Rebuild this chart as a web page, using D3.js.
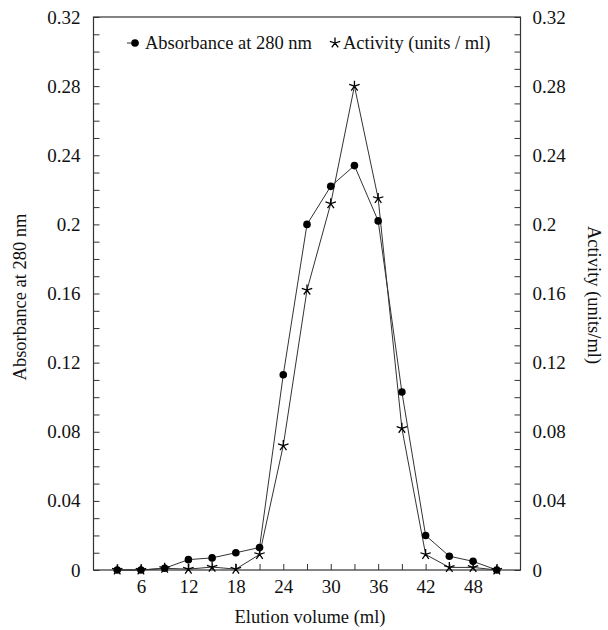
<!DOCTYPE html>
<html>
<head>
<meta charset="utf-8">
<script src="https://cdnjs.cloudflare.com/ajax/libs/d3/7.8.5/d3.min.js"></script>
<style>
body { margin: 0; background: #fff; }
text { font-family: "Liberation Serif", "Times New Roman", serif; fill: #111; }
</style>
</head>
<body>
<svg width="608" height="630"></svg>
<script>
// data
var elutionVolume = [3, 6, 9, 12, 15, 18, 21, 24, 27, 30, 33, 36, 39, 42, 45, 48, 51];
var absorbance = [0, 0, 0.001, 0.006, 0.007, 0.010, 0.013, 0.113, 0.200, 0.222, 0.234, 0.202, 0.103, 0.020, 0.008, 0.005, 0];
var activity = [0, 0, 0.001, 0.0005, 0.0017, 0.0005, 0.009, 0.072, 0.162, 0.212, 0.280, 0.215, 0.082, 0.009, 0.0015, 0.0015, 0];
var xTickLabels = [6, 12, 18, 24, 30, 36, 42, 48];
var yTickLabels = [0, 0.04, 0.08, 0.12, 0.16, 0.2, 0.24, 0.28, 0.32];

// plot box (note: "top" is taken by window.top)
var plotLeft = 93.5, plotRight = 520.5, plotTop = 17, plotBottom = 570;

var svg = d3.select("svg");

var x = d3.scaleLinear().domain([0, 54]).range([plotLeft, plotRight]);
var y = d3.scaleLinear().domain([0, 0.32]).range([plotBottom, plotTop]);

function isMajor(v)
{
    return yTickLabels.some(function(t) { return Math.abs(t - v) < 1e-9; });
}

var yMinor = d3.range(0, 33).map(function(i) { return i / 100; });
var xMinor = d3.range(3, 54, 3);

function styleAxis(g)
{
    g.select(".domain").remove();
    g.selectAll(".tick line").attr("stroke", "#333").attr("stroke-width", 1);
    g.selectAll(".tick text").attr("font-size", 19).attr("fill", "#111");
}

// left axis
svg.append("g")
    .attr("transform", "translate(" + plotLeft + ",0)")
    .call(d3.axisLeft(y).tickValues(yMinor).tickSize(-6).tickPadding(13)
        .tickFormat(function(d) { return isMajor(d) ? String(+d.toFixed(2)) : ""; }))
    .call(styleAxis);

// right axis
svg.append("g")
    .attr("transform", "translate(" + plotRight + ",0)")
    .call(d3.axisRight(y).tickValues(yMinor).tickSize(-6).tickPadding(12)
        .tickFormat(function(d) { return isMajor(d) ? String(+d.toFixed(2)) : ""; }))
    .call(styleAxis);

// bottom axis
svg.append("g")
    .attr("transform", "translate(0," + plotBottom + ")")
    .call(d3.axisBottom(x).tickValues(xMinor).tickSize(-6).tickPadding(10)
        .tickFormat(function(d) { return xTickLabels.indexOf(d) >= 0 ? d : ""; }))
    .call(styleAxis);

// frame
svg.append("rect")
    .attr("x", plotLeft).attr("y", plotTop)
    .attr("width", plotRight - plotLeft).attr("height", plotBottom - plotTop)
    .attr("fill", "none").attr("stroke", "#333").attr("stroke-width", 1.2);

// axis titles
svg.append("text")
    .attr("x", (plotLeft + plotRight) / 2 + 3).attr("y", 623)
    .attr("text-anchor", "middle").attr("font-size", 18.5)
    .text("Elution volume (ml)");

svg.append("text")
    .attr("transform", "translate(26,297) rotate(-90)")
    .attr("text-anchor", "middle").attr("font-size", 18.5)
    .text("Absorbance at 280 nm");

svg.append("text")
    .attr("transform", "translate(588,295) rotate(90)")
    .attr("text-anchor", "middle").attr("font-size", 18.5)
    .text("Activity (units/ml)");

var absData = elutionVolume.map(function(v, i) { return [v, absorbance[i]]; });
var actData = elutionVolume.map(function(v, i) { return [v, activity[i]]; });

var line = d3.line()
    .x(function(d) { return x(d[0]); })
    .y(function(d) { return y(d[1]); });

svg.append("path").datum(absData)
    .attr("d", line).attr("fill", "none").attr("stroke", "#333").attr("stroke-width", 1);
svg.append("path").datum(actData)
    .attr("d", line).attr("fill", "none").attr("stroke", "#333").attr("stroke-width", 1);

// five-armed asterisk marker
function starPath(r)
{
    var p = "";
    for (var k = 0; k < 5; k++)
    {
        var a = -Math.PI / 2 + k * 2 * Math.PI / 5;
        p += "M0,0L" + (r * Math.cos(a)).toFixed(2) + "," + (r * Math.sin(a)).toFixed(2);
    }
    return p;
}

svg.selectAll("circle.abs")
    .data(absData)
    .enter().append("circle")
    .attr("class", "abs")
    .attr("cx", function(d) { return x(d[0]); })
    .attr("cy", function(d) { return y(d[1]); })
    .attr("r", 3.8)
    .attr("fill", "#000");

svg.selectAll("path.act")
    .data(actData)
    .enter().append("path")
    .attr("class", "act")
    .attr("transform", function(d) { return "translate(" + x(d[0]) + "," + y(d[1]) + ")"; })
    .attr("d", starPath(5.5))
    .attr("stroke", "#000").attr("stroke-width", 1.3).attr("fill", "none");

// legend
var legend = svg.append("g");
legend.append("line")
    .attr("x1", 127).attr("x2", 139).attr("y1", 43).attr("y2", 43)
    .attr("stroke", "#333");
legend.append("circle")
    .attr("cx", 135).attr("cy", 43).attr("r", 3.8).attr("fill", "#000");
legend.append("text")
    .attr("x", 145).attr("y", 49).attr("font-size", 18.5)
    .text("Absorbance at 280 nm");
legend.append("path")
    .attr("transform", "translate(335,43)")
    .attr("d", starPath(5.5))
    .attr("stroke", "#000").attr("stroke-width", 1.3).attr("fill", "none");
legend.append("text")
    .attr("x", 343).attr("y", 49).attr("font-size", 18.5)
    .text("Activity (units / ml)");
</script>
</body>
</html>
